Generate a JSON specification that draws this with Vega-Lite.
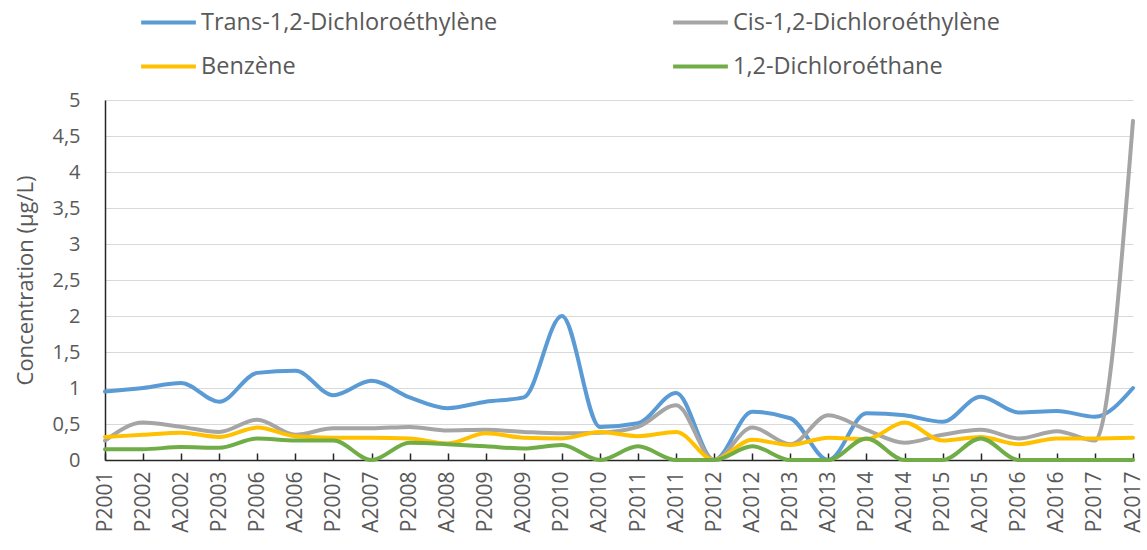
{
  "$schema": "https://vega.github.io/schema/vega-lite/v6.json",
  "width": 1028,
  "height": 360,
  "autosize": {"type": "none"},
  "padding": {"left": 105, "top": 100, "right": 14, "bottom": 90},
  "background": "white",
  "data": {
    "values": [
      {"periode": "P2001", "trans": 0.95, "cis": 0.27, "benzene": 0.32, "dce": 0.15},
      {"periode": "P2002", "trans": 1.0, "cis": 0.52, "benzene": 0.35, "dce": 0.15},
      {"periode": "A2002", "trans": 1.07, "cis": 0.46, "benzene": 0.38, "dce": 0.18},
      {"periode": "P2003", "trans": 0.81, "cis": 0.39, "benzene": 0.32, "dce": 0.17},
      {"periode": "P2006", "trans": 1.21, "cis": 0.56, "benzene": 0.45, "dce": 0.3},
      {"periode": "A2006", "trans": 1.24, "cis": 0.35, "benzene": 0.33, "dce": 0.27},
      {"periode": "P2007", "trans": 0.9, "cis": 0.44, "benzene": 0.31, "dce": 0.27},
      {"periode": "A2007", "trans": 1.1, "cis": 0.44, "benzene": 0.31, "dce": 0.0},
      {"periode": "P2008", "trans": 0.87, "cis": 0.46, "benzene": 0.3, "dce": 0.24},
      {"periode": "A2008", "trans": 0.72, "cis": 0.41, "benzene": 0.23, "dce": 0.22},
      {"periode": "P2009", "trans": 0.81, "cis": 0.42, "benzene": 0.37, "dce": 0.19},
      {"periode": "A2009", "trans": 0.87, "cis": 0.39, "benzene": 0.31, "dce": 0.16},
      {"periode": "P2010", "trans": 2.0, "cis": 0.37, "benzene": 0.3, "dce": 0.21},
      {"periode": "A2010", "trans": 0.46, "cis": 0.38, "benzene": 0.39, "dce": 0.0},
      {"periode": "P2011", "trans": 0.51, "cis": 0.46, "benzene": 0.33, "dce": 0.19},
      {"periode": "A2011", "trans": 0.93, "cis": 0.76, "benzene": 0.39, "dce": 0.0},
      {"periode": "P2012", "trans": 0.0, "cis": 0.0, "benzene": 0.0, "dce": 0.0},
      {"periode": "A2012", "trans": 0.67, "cis": 0.45, "benzene": 0.28, "dce": 0.19},
      {"periode": "P2013", "trans": 0.58, "cis": 0.22, "benzene": 0.21, "dce": 0.0},
      {"periode": "A2013", "trans": 0.0, "cis": 0.62, "benzene": 0.31, "dce": 0.0},
      {"periode": "P2014", "trans": 0.65, "cis": 0.42, "benzene": 0.29, "dce": 0.3},
      {"periode": "A2014", "trans": 0.62, "cis": 0.24, "benzene": 0.52, "dce": 0.0},
      {"periode": "P2015", "trans": 0.53, "cis": 0.35, "benzene": 0.27, "dce": 0.0},
      {"periode": "A2015", "trans": 0.88, "cis": 0.42, "benzene": 0.32, "dce": 0.3},
      {"periode": "P2016", "trans": 0.66, "cis": 0.3, "benzene": 0.22, "dce": 0.0},
      {"periode": "A2016", "trans": 0.68, "cis": 0.4, "benzene": 0.3, "dce": 0.0},
      {"periode": "P2017", "trans": 0.6, "cis": 0.27, "benzene": 0.3, "dce": 0.0},
      {"periode": "A2017", "trans": 1.0, "cis": 4.71, "benzene": 0.31, "dce": 0.0}
    ]
  },
  "transform": [
    {"fold": ["trans", "cis", "benzene", "dce"], "as": ["key", "valeur"]},
    {"lookup": "key", "from": {"data": {"values": [
      {"key": "trans", "serie": "Trans-1,2-Dichloroéthylène"},
      {"key": "cis", "serie": "Cis-1,2-Dichloroéthylène"},
      {"key": "benzene", "serie": "Benzène"},
      {"key": "dce", "serie": "1,2-Dichloroéthane"}
    ]}, "key": "key", "fields": ["serie"]}}
  ],
  "mark": {"type": "line", "interpolate": "monotone", "strokeWidth": 4, "strokeCap": "round", "strokeJoin": "round"},
  "encoding": {
    "x": {
      "field": "periode",
      "type": "ordinal",
      "sort": null,
      "scale": {"type": "point", "padding": 0},
      "axis": {
        "title": null,
        "labelAngle": -90,
        "labelAlign": "right",
        "labelBaseline": "middle",
        "labelFont": "Open Sans",
        "labelFontSize": 21,
        "labelColor": "#595959",
        "labelPadding": 18,
        "tickSize": -7,
        "tickColor": "#262626",
        "tickWidth": 1.5,
        "domainColor": "#262626",
        "domainWidth": 1.5,
        "grid": false
      }
    },
    "y": {
      "field": "valeur",
      "type": "quantitative",
      "scale": {"domain": [0, 5], "nice": false, "zero": true},
      "axis": {
        "title": "Concentration (µg/L)",
        "titleFont": "Open Sans",
        "titleFontSize": 22,
        "titleFontWeight": "normal",
        "titleColor": "#595959",
        "titlePadding": 14,
        "values": [0, 0.5, 1, 1.5, 2, 2.5, 3, 3.5, 4, 4.5, 5],
        "labelExpr": "replace(format(datum.value, ''), '.', ',')",
        "labelFont": "Open Sans",
        "labelFontSize": 20,
        "labelColor": "#595959",
        "labelPadding": 25,
        "ticks": false,
        "domainColor": "#262626",
        "domainWidth": 1.5,
        "grid": true,
        "gridColor": "#D9D9D9",
        "gridWidth": 1.2
      }
    },
    "color": {
      "field": "serie",
      "type": "nominal",
      "sort": ["Trans-1,2-Dichloroéthylène", "Cis-1,2-Dichloroéthylène", "Benzène", "1,2-Dichloroéthane"],
      "scale": {
        "domain": ["Trans-1,2-Dichloroéthylène", "Cis-1,2-Dichloroéthylène", "Benzène", "1,2-Dichloroéthane"],
        "range": ["#5B9BD5", "#A5A5A5", "#FFC000", "#70AD47"]
      },
      "legend": {
        "title": null,
        "orient": "none",
        "legendX": 34,
        "legendY": -107,
        "direction": "horizontal",
        "columns": 2,
        "columnPadding": 167,
        "rowPadding": 3,
        "padding": 0,
        "symbolType": "stroke",
        "symbolSize": 3000,
        "symbolStrokeWidth": 4,
        "labelOffset": 3,
        "labelFont": "Open Sans",
        "labelFontSize": 23.5,
        "labelColor": "#595959",
        "labelLimit": 400
      }
    }
  },
  "config": {
    "view": {"stroke": null}
  }
}
